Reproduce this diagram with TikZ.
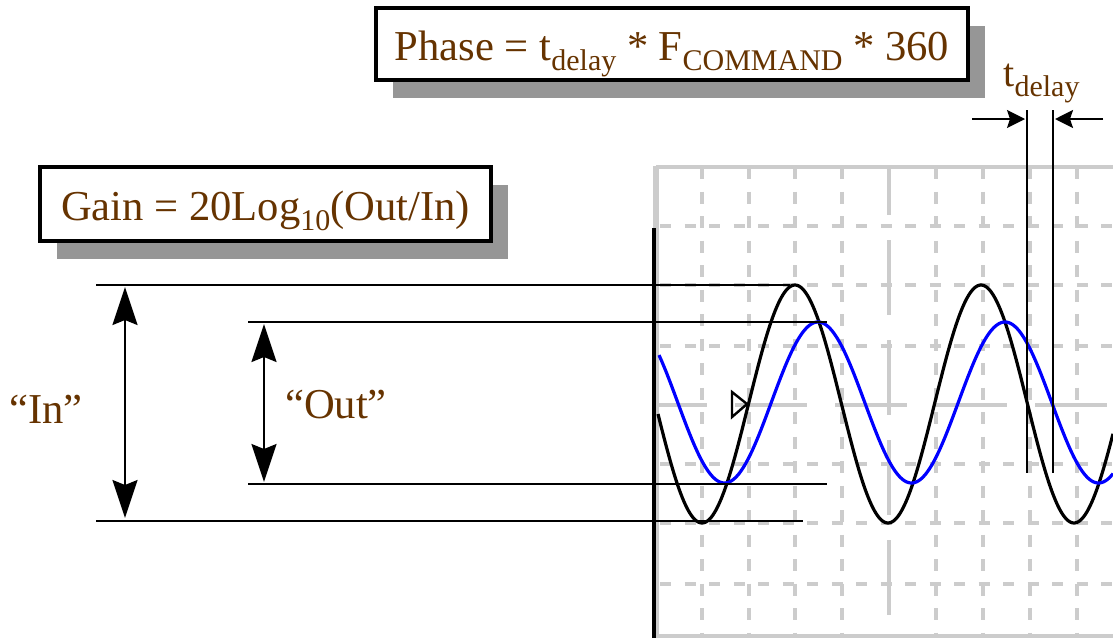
\documentclass[tikz,border=0pt]{standalone}
\usepackage{fontspec}
\setmainfont{Liberation Serif}
\usetikzlibrary{arrows.meta,shadows}
\definecolor{txtbrown}{RGB}{102,51,0}
\definecolor{gridg}{RGB}{204,204,204}
\definecolor{shadg}{RGB}{150,150,150}
\newcommand\lo[1]{\raisebox{-5pt}{\fontsize{15}{18}\selectfont #1}}
\begin{document}
\begin{tikzpicture}[x=0.5pt,y=-0.5pt,
  lbl/.style={text=txtbrown, font=\fontsize{21.3}{25}\selectfont, inner sep=0pt},
  formbox/.style={lbl, draw=black, line width=1.6pt, fill=white, text height=20pt, text depth=4pt,
    drop shadow={shadow xshift=8.5pt, shadow yshift=-9pt, fill=shadg, opacity=1}},
  gridh/.style={draw=gridg, line width=1.6pt, dash pattern=on 5.5pt off 6.75pt, dash phase=9.75pt},
  gridv/.style={draw=gridg, line width=1.6pt, dash pattern=on 6pt off 6.25pt},
  gridc/.style={draw=gridg, line width=1.6pt},
  level/.style={draw=black, line width=1.2pt},
  dimarrow/.style={draw=black, line width=1pt, {Stealth[length=19pt,width=12.5pt,inset=2.5pt]}-{Stealth[length=19pt,width=12.5pt,inset=2.5pt]}},
  delayarrow/.style={draw=black, line width=0.9pt, -{Stealth[length=9pt,width=9pt,inset=1.5pt]}},
  delayline/.style={draw=black, line width=1.1pt},
  wave/.style={line width=1.6pt}
]
\useasboundingbox (0,0) rectangle (1113,638);

% ---- graticule ----
\begin{scope}
\clip (640,165) rectangle (1113,638);
\foreach \y in {226,285,346,464,523,584}
  \draw[gridh] (655,\y) -- (1113,\y);
\foreach \x in {702,749,795,842,936,983,1030,1077}
  \draw[gridv] (\x,167) -- (\x,638);
\draw[gridc, dash pattern=on 37.5pt off 12.5pt, dash phase=13.5pt] (889,167) -- (889,638);
\draw[gridc, dash pattern=on 36pt off 14pt, dash phase=10pt] (655,405) -- (1113,405);
\draw[gridg, line width=1.6pt] (655,636) -- (1113,636);
\end{scope}
\draw[gridg, line width=1.8pt] (1113,167) -- (656,167);
\draw[gridg, line width=2.6pt] (656,166.2) -- (656,638);
\draw[black, line width=1.6pt] (654,228) -- (654,638);

% ---- traces ----
\begin{scope}
\clip (655,165) rectangle (1113,638);
\draw[wave, black] plot[domain=658:1113, samples=300, smooth] (\x, {404-119*cos(((\x-795)/186)*360)});
\draw[wave, blue] plot[domain=659:1113, samples=300, smooth] (\x, {402.5-80.5*cos(((\x-818)/187)*360)});
\end{scope}

% trigger marker
\draw[black, line width=1.2pt] (732,392) -- (747,404) -- (732,417) -- cycle;

% ---- level lines ----
\coordinate (inTopL) at (96,285);   \coordinate (inTopR) at (790,285);
\coordinate (outTopL) at (248,322); \coordinate (outTopR) at (827,322);
\coordinate (outBotL) at (248,484); \coordinate (outBotR) at (827,484);
\coordinate (inBotL) at (96,521);   \coordinate (inBotR) at (803,521);
\draw[level] (inTopL) -- (inTopR);
\draw[level] (outTopL) -- (outTopR);
\draw[level] (outBotL) -- (outBotR);
\draw[level] (inBotL) -- (inBotR);

% ---- amplitude arrows ----
\coordinate (inA) at (125,287);  \coordinate (inB) at (125,518);
\coordinate (outA) at (264,324); \coordinate (outB) at (264,482);
\draw[dimarrow] (inA) -- (inB);
\draw[dimarrow] (outA) -- (outB);
\node[lbl, anchor=base] (inlbl) at (46,423) {“In”};
\node[lbl, anchor=base] (outlbl) at (336,418) {“Out”};

% ---- delay markers ----
\coordinate (d1top) at (1027,110); \coordinate (d1bot) at (1027,473);
\coordinate (d2top) at (1053,110); \coordinate (d2bot) at (1053,473);
\draw[delayline] (d1top) -- (d1bot);
\draw[delayline] (d2top) -- (d2bot);
\coordinate (la) at (972,119); \coordinate (lat) at (1025,119);
\coordinate (ra) at (1103,119); \coordinate (rat) at (1055,119);
\draw[delayarrow] (la) -- (lat);
\draw[delayarrow] (ra) -- (rat);
\node[lbl, anchor=base west, font=\fontsize{20}{24}\selectfont] (tdl) at (1003,86) {t\lo{delay}};

% ---- formula boxes ----
\node[formbox, minimum width=296pt, minimum height=36pt] (phase) at (672,44)
  {Phase = t\lo{delay} * F\lo{COMMAND} * 360};
\node[formbox, minimum width=225.5pt, minimum height=37pt] (gain) at (265.5,204)
  {Gain = 20Log\lo{10}(Out/In)};
\end{tikzpicture}
\end{document}
